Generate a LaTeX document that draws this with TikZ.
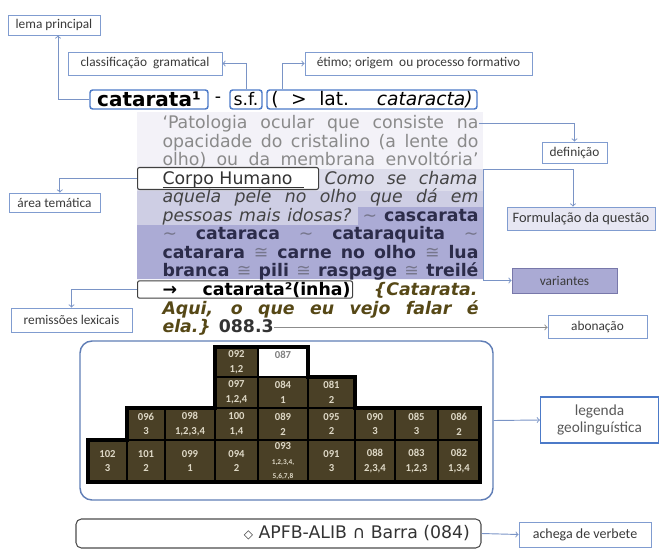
\documentclass[tikz,border=0pt]{standalone}
\usepackage{fontspec}
\setmainfont{DejaVu Sans}
\newfontfamily\labfont{Carlito}

\definecolor{lablue}{RGB}{128,156,208}
\definecolor{connblue}{RGB}{122,148,198}
\definecolor{entryblue}{RGB}{76,122,200}
\definecolor{labtext}{RGB}{58,58,58}
\definecolor{defgray}{RGB}{138,138,138}
\definecolor{quest}{RGB}{68,68,68}
\definecolor{varnavy}{RGB}{44,44,74}
\definecolor{tildegray}{RGB}{118,118,140}
\definecolor{abonolive}{RGB}{86,72,22}
\definecolor{bandA}{RGB}{243,242,248}
\definecolor{bandB}{RGB}{221,221,235}
\definecolor{bandC}{RGB}{206,206,228}
\definecolor{bandD}{RGB}{171,171,213}
\definecolor{varfill}{RGB}{170,170,212}
\definecolor{varborder}{RGB}{120,120,170}
\definecolor{formfill}{RGB}{231,231,243}
\definecolor{cellfill}{RGB}{74,64,38}
\definecolor{celltext}{RGB}{222,216,198}
\definecolor{gridframe}{RGB}{96,126,182}

\newcommand{\verbetefont}{\fontsize{13}{15}\selectfont}
\newcommand{\cellsmall}{\fontsize{5.5}{6.5}\selectfont}
\newcommand{\vartil}{{\mdseries\color{tildegray}\textasciitilde}}
\newcommand{\varsep}{{\mdseries\color{tildegray}≅}}
\newcommand{\sublinha}[1]{\setbox0\hbox{#1}\rlap{\raisebox{-2.4pt}{\rule{\wd0}{0.7pt}}}\box0}

\tikzset{every picture/.style={line width=0.75pt}}
\tikzset{
  lbox/.style={draw=lablue, fill=white, line width=0.6pt, inner sep=0pt, text=labtext, font=\labfont\fontsize{10}{12}\selectfont},
  ebox/.style={draw=entryblue, line width=1.1pt, rounded corners=2pt, inner sep=0pt, font=\verbetefont},
  qbox/.style={draw=black!75, fill=white, line width=0.8pt, rounded corners=1.5pt, inner sep=0pt, text height=11pt, text depth=2pt, font=\verbetefont},
  defline/.style={anchor=base west, inner sep=0pt, font=\verbetefont},
  conn/.style={draw=connblue, line width=0.7pt, ->},
  cell/.style={draw=black, line width=1.2pt, fill=cellfill, text=celltext, inner sep=0pt, align=center, font=\labfont\bfseries\fontsize{8}{11}\selectfont},
}

\begin{document}
\begin{tikzpicture}[x=0.75pt,y=0.75pt,yscale=-1]
\useasboundingbox (0,0) rectangle (661,550);

%Shape: Rectangle bands behind the entry text
\fill[bandA] (137,112) rectangle (483,169);
\fill[bandB] (137,169) rectangle (483,191);
\fill[bandC] (137,191) rectangle (483,225);
\fill[bandD] (137,225) -- (358,225) -- (358,207) -- (483,207) -- (483,279) -- (137,279) -- cycle;

% Text Node
\node[lbox, minimum width=69pt, minimum height=15pt] (lema) at (54,25) {lema principal};
% Text Node
\node[lbox, minimum width=115.5pt, minimum height=17.25pt] (clas) at (145,63.5) {classificação\ \ gramatical};
% Text Node
\node[lbox, minimum width=170.25pt, minimum height=17.25pt] (etimo) at (418.5,63.5) {étimo; origem\ \ ou processo formativo};

% Text Node
\node[ebox, minimum width=88.5pt, minimum height=14.25pt, font=\bfseries\fontsize{15}{16}\selectfont] (cat) at (149,99.5) {catarata¹};
% Text Node
\node[inner sep=0pt, font=\verbetefont] (dash) at (218,99.5) {-};
% Text Node
\node[ebox, minimum width=24pt, minimum height=14.25pt] (sf) at (246,99.5) {s.f.};
% Text Node
\node[ebox, minimum width=157.5pt, minimum height=14.25pt, font=\fontsize{14}{15}\selectfont] (paren) at (372,99.5) {\makebox[151pt][s]{( > lat. \textit{cataracta)}}};

% Text Node
\node[defline, text=defgray] (l1) at (162,128.5) {\makebox[237pt][s]{`Patologia ocular que consiste na}};
% Text Node
\node[defline, text=defgray] (l2) at (162,147.05) {\makebox[237pt][s]{opacidade do cristalino (a lente do}};
% Text Node
\node[defline, text=defgray] (l3) at (162,165.6) {\makebox[237pt][s]{olho) ou da membrana envoltória'}};
% Text Node
\node[qbox, anchor=west, minimum height=16.5pt, text=black!80] (corpo) at (137,178.5) {\hspace*{18.75pt}\makebox[117pt][l]{\sublinha{Corpo Humano\ \ }}};
% Text Node
\node[defline, anchor=base east, text=quest, font=\verbetefont\itshape] (l4) at (478,184.15) {\makebox[114.75pt][s]{Como se chama}};
% Text Node
\node[defline, text=quest, font=\verbetefont\itshape] (l5) at (162,202.7) {\makebox[237pt][s]{aquela pele no olho que dá em}};
% Text Node
\node[defline] (l6) at (162,221.25) {\makebox[237pt][s]{{\color{quest}\itshape pessoas mais idosas?} \vartil{} {\bfseries\color{varnavy}cascarata}}};
% Text Node
\node[defline, text=varnavy, font=\verbetefont\bfseries] (l7) at (162,239.8) {\makebox[237pt][s]{\vartil{} cataraca \vartil{} cataraquita \vartil}};
% Text Node
\node[defline, text=varnavy, font=\verbetefont\bfseries] (l8) at (162,258.35) {\makebox[237pt][s]{catarara \varsep{} carne no olho \varsep{} lua}};
% Text Node
\node[defline, text=varnavy, font=\verbetefont\bfseries] (l9) at (162,276.9) {\makebox[237pt][s]{branca \varsep{} pili \varsep{} raspage \varsep{} treilé}};
% Text Node
\node[qbox, anchor=west, minimum height=12.75pt, text=black, font=\verbetefont\bfseries] (remisbox) at (137,289.5) {\hspace*{18.75pt}\makebox[141pt][s]{→ catarata²(inha)}\hspace*{1.5pt}};
% Text Node
\node[defline, anchor=base east, text=abonolive, font=\verbetefont\bfseries\itshape] (l10) at (478,295.45) {\{Catarata.};
% Text Node
\node[defline, text=abonolive, font=\verbetefont\bfseries\itshape] (l11) at (162,314) {\makebox[237pt][s]{Aqui, o que eu vejo falar é}};
% Text Node
\node[defline, text=abonolive, font=\verbetefont\bfseries\itshape] (l12) at (162,332.55) {ela.\} {\upshape\color{black!80}088.3}};

% Text Node
\node[lbox, minimum width=48.75pt, minimum height=15.75pt] (defi) at (574.5,152.5) {definição};
% Text Node
\node[lbox, fill=formfill, minimum width=111pt, minimum height=17.25pt, font=\labfont\fontsize{10.8}{12}\selectfont] (form) at (581,218.5) {Formulação da questão};
% Text Node
\node[lbox, fill=varfill, draw=varborder, minimum width=78.75pt, minimum height=18.75pt] (var) at (564.5,280.5) {variantes};
% Text Node
\node[lbox, minimum width=68.25pt, minimum height=14.25pt] (area) at (54.5,202.5) {área temática};
% Text Node
\node[lbox, minimum width=90.75pt, minimum height=18pt] (remis) at (71.5,320) {remissões lexicais};
% Text Node
\node[lbox, minimum width=74.25pt, minimum height=17.25pt] (abon) at (597.5,326.5) {abonação};

%Rounded Rect: frame of the geolinguistic legend
\node[draw=gridframe, line width=1.1pt, rounded corners=9pt, minimum width=309.75pt, minimum height=119.25pt] (gridbox) at (286.5,420.5) {};
% Text Node
\node[lbox, draw=entryblue, line width=0.9pt, minimum width=88.5pt, minimum height=34.5pt, align=center, text=black!65, font=\labfont\fontsize{11.5}{13}\selectfont] (leg) at (599.5,420) {legenda\\geolinguística};

%Grid cells
\foreach \xa/\xb/\ya/\yb/\code/\num in {
  215/258/347/377/092/{1,2},
  215/258/377/408/097/{1,2,4}, 258/308/377/408/084/1, 308/355/377/408/081/2,
  127/165/408/440/096/3, 165/215/408/440/098/{1,2,3,4}, 215/258/408/440/100/{1,4},
  258/308/408/440/089/2, 308/355/408/440/095/2, 355/395/408/440/090/3,
  395/438/408/440/085/3, 438/480/408/440/086/2,
  88/127/440/482/102/3, 127/165/440/482/101/2, 165/215/440/482/099/1,
  215/258/440/482/094/2, 308/355/440/482/091/3, 355/395/440/482/088/{2,3,4},
  395/438/440/482/083/{1,2,3}, 438/480/440/482/082/{1,3,4}}
{
  \node[cell, minimum width={(\xb-\xa)*0.75pt}, minimum height={(\yb-\ya)*0.75pt}] (c\code) at ({(\xa+\xb)/2},{(\ya+\yb)/2}) {\code\\\num};
}
\node[cell, fill=white, text=black!50, minimum width=37.5pt, minimum height=22.5pt] (c087) at (283,362) {087\\\phantom{0}};
\node[cell, minimum width=37.5pt, minimum height=31.5pt] (c093) at (283,461) {093\\\cellsmall 1,2,3,4,\\\cellsmall 5,6,7,8};

%Straight Lines: outline of the grid
\draw[line width=2.4pt] (215,347) -- (308,347) -- (308,377) -- (355,377) -- (355,408) -- (480,408) -- (480,482) -- (88,482) -- (88,440) -- (127,440) -- (127,408) -- (215,408) -- cycle;
\draw[line width=2.2pt] (127,440) -- (480,440);
\draw[line width=2.2pt] (258,440) -- (258,482);
\draw[line width=2.2pt] (355,440) -- (355,482);

%Rounded Rect: source line
\node[draw=black!70, line width=0.8pt, rounded corners=4pt, minimum width=303.75pt, minimum height=21.75pt, inner sep=0pt, text=black!80, font=\verbetefont] (fonte) at (278.5,533.5) {\makebox[287.25pt][r]{{\fontsize{9}{10}\selectfont ◇} APFB-ALIB ∩ Barra (084)}};
% Text Node
\node[lbox, minimum width=99pt, minimum height=18.75pt, font=\labfont\fontsize{10.5}{12}\selectfont] (achega) at (585,534.5) {achega de verbete};

%Straight Lines: connectors
\coordinate (bgcorner) at (483,169);
\draw[conn] (cat.west) -| ([xshift=3pt]lema.south);
\draw[conn] (sf.north) |- (clas.east);
\draw[conn] ([xshift=12pt]paren.north west) |- (etimo.west);
\draw[conn] (l1.east) -| (defi.north);
\draw[conn] (bgcorner) -| ([xshift=-6pt]form.north);
\draw[conn] (bgcorner) |- (var.west);
\draw[conn] (corpo.west) -| ([xshift=4pt]area.north);
\draw[conn] (remisbox.west) -| (remis.north);
\draw[conn, draw=black!45] (l12.east) -- (l12.east -| abon.west);
\draw[conn] (gridbox.east) -- (leg.west);
\draw[conn] (fonte.east) -- (achega.west);

\end{tikzpicture}
\end{document}
